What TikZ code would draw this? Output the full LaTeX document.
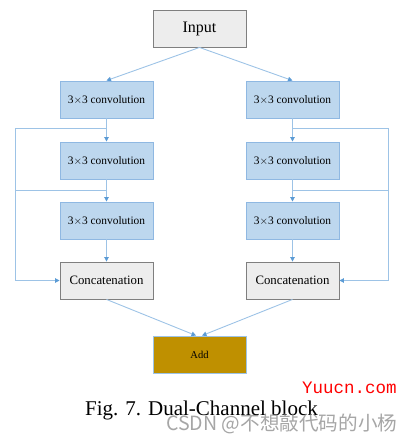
\documentclass[tikz,border=0pt]{standalone}
\usepackage{fontspec}
\setmainfont{Liberation Serif}
\newfontfamily\cjkfont{Noto Sans CJK SC}
\newfontfamily\monofont{Liberation Mono}
\usetikzlibrary{arrows.meta,calc}
\definecolor{convfill}{HTML}{BDD7EE}
\definecolor{convline}{HTML}{8FB8E2}
\definecolor{linkline}{HTML}{9DC3E6}
\definecolor{headcol}{HTML}{5B9BD5}
\definecolor{grayfill}{HTML}{EDEDED}
\definecolor{grayline}{HTML}{7F7F7F}
\definecolor{addfill}{HTML}{BF9000}
\tikzset{
  convbox/.style={draw=convline, fill=convfill, line width=0.9pt, minimum width=93pt, minimum height=37pt, inner sep=0pt, font=\fontsize{11.4}{13}\selectfont},
  graybox/.style={draw=grayline, fill=grayfill, line width=0.9pt, minimum width=93pt, minimum height=37pt, inner sep=0pt},
  addbox/.style={draw=linkline, fill=addfill, line width=0.9pt, minimum width=93pt, minimum height=37pt, inner sep=0pt, font=\fontsize{10.5}{12}\selectfont},
  link/.style={draw=linkline, line width=0.9pt},
  arr/.style={link, -{Triangle[length=4.5pt,width=4.5pt,color=headcol]}}
}
\begin{document}
\begin{tikzpicture}[x=1pt,y=-1pt]
\useasboundingbox (0,0) rectangle (411,442);
\node[graybox, font=\fontsize{16}{18}\selectfont] (in) at (199.5,28.5) {Input};
\node[convbox] (l1) at (106.5,99.5) {3$\times$3 convolution};
\node[convbox] (l2) at (106.5,160.5) {3$\times$3 convolution};
\node[convbox] (l3) at (106.5,220.5) {3$\times$3 convolution};
\node[graybox, font=\fontsize{12.8}{14}\selectfont] (lc) at (106.5,280.5) {Concatenation};
\node[convbox] (r1) at (292.5,99.5) {3$\times$3 convolution};
\node[convbox] (r2) at (292.5,160.5) {3$\times$3 convolution};
\node[convbox] (r3) at (292.5,220.5) {3$\times$3 convolution};
\node[graybox, font=\fontsize{12.8}{14}\selectfont] (rc) at (292.5,280.5) {Concatenation};
\node[addbox] (add) at (199.5,354.5) {Add};
% junctions
\coordinate (lj1) at (106.5,128);
\coordinate (lj2) at (106.5,190);
\coordinate (rj1) at (292.5,128);
\coordinate (rj2) at (292.5,190);
\coordinate (lx1) at (15,128);
\coordinate (lx2) at (15,190);
\coordinate (lx3) at (15,280.5);
\coordinate (rx1) at (388,128);
\coordinate (rx2) at (388,190);
\coordinate (rx3) at (388,280.5);
% input to branches
\draw[arr] (in.south) -- (l1.north);
\draw[arr] (in.south) -- (r1.north);
% vertical chains
\draw[arr] (l1.south) -- (l2.north);
\draw[arr] (l2.south) -- (l3.north);
\draw[arr] (l3.south) -- (lc.north);
\draw[arr] (r1.south) -- (r2.north);
\draw[arr] (r2.south) -- (r3.north);
\draw[arr] (r3.south) -- (rc.north);
% skip connections
\draw[arr] (lj1) -- (lx1) -- (lx3) -- (lc.west);
\draw[link] (lj2) -- (lx2);
\draw[arr] (rj1) -- (rx1) -- (rx3) -- (rc.east);
\draw[link] (rj2) -- (rx2);
% to add
\draw[arr] (lc.south) -- ($(add.north)+(-3.5,0)$);
\draw[arr] (rc.south) -- ($(add.north)+(2.5,0)$);
% caption
\node[anchor=base, font=\fontsize{21}{24}\selectfont, inner sep=0pt] (cap) at (201.5,415) {Fig. 7. Dual-Channel block};
\node[anchor=base west, font=\monofont\fontsize{17.5}{20}\selectfont, text=red, inner sep=0pt] (wm1) at (302,393) {Yuucn.com};
\node[anchor=base west, font=\cjkfont\fontsize{19.6}{22}\selectfont, text=gray, opacity=0.7, inner sep=0pt] (wm2) at (166,430) {CSDN @不想敲代码的小杨};
\end{tikzpicture}
\end{document}
